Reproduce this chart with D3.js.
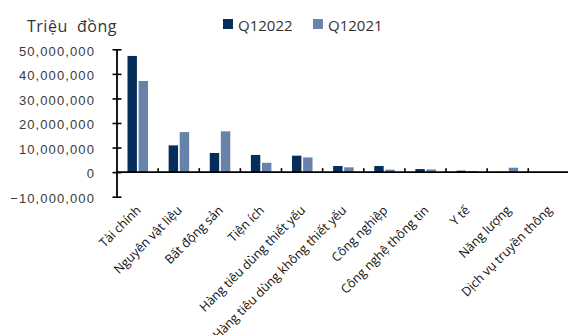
<!DOCTYPE html>
<html>
<head>
<meta charset="utf-8">
<script src="https://cdn.jsdelivr.net/npm/d3@7/dist/d3.min.js"></script>
<style>
  html, body { margin: 0; padding: 0; background: #fff; }
  svg { display: block; font-family: "Open Sans", "Noto Sans", sans-serif; }
</style>
</head>
<body>
<svg id="chart" width="568" height="335"></svg>
<script>
// Sector values (million VND), Q1 2022 vs Q1 2021
const categories = [
  "Tài chính", "Nguyên vật liệu", "Bất động sản", "Tiện ích",
  "Hàng tiêu dùng thiết yếu", "Hàng tiêu dùng không thiết yếu",
  "Công nghiệp", "Công nghệ thông tin", "Y tế", "Năng lượng",
  "Dịch vụ truyền thông"
];
const seriesNames = ["Q12022", "Q12021"];
const q12022 = [47300000, 10900000, 7800000, 7000000, 6700000, 2500000, 2500000, 1260000, 600000, 150000, 0];
const q12021 = [37100000, 16300000, 16600000, 3800000, 6000000, 1950000, 1000000, 1100000, 450000, 1800000, 0];
const yTicks = [-10000000, 0, 10000000, 20000000, 30000000, 40000000, 50000000];
const colors = ["#052e5a", "#6783a9"];
const unitLabel = "Triệu  đồng";

const svg = d3.select("#chart");

const y = d3.scaleLinear().domain([-10000000, 50000000]).range([196.7, 49.3]);
const x = d3.scaleBand().domain(categories).range([117, 569.4]).paddingInner(0).paddingOuter(0);
const xs = d3.scaleBand().domain(seriesNames).range([10.5, 31]).paddingInner(0.15).paddingOuter(0);

const rows = categories.map((c, i) => ({ cat: c, vals: [q12022[i], q12021[i]] }));

// Bars
const groups = svg.append("g").selectAll("g").data(rows).join("g")
  .attr("transform", d => `translate(${x(d.cat)},0)`);
groups.selectAll("rect").data(d => d.vals.map((v, k) => ({ v, k })))
  .join("rect")
  .attr("x", d => xs(seriesNames[d.k]))
  .attr("width", xs.bandwidth())
  .attr("y", d => y(Math.max(0, d.v)))
  .attr("height", d => Math.abs(y(d.v) - y(0)))
  .attr("fill", d => colors[d.k]);

// Y axis
const yAxis = d3.axisLeft(y).tickValues(yTicks).tickFormat(d3.format(",")).tickSize(0).tickPadding(22);
const yg = svg.append("g").attr("transform", "translate(117,0)").call(yAxis);
yg.select(".domain").remove();
yg.selectAll(".tick text")
  .attr("fill", "#3a3a3a")
  .style("font-size", "13px")
  .style("letter-spacing", "1.1px")
  .attr("dy", "0.45em");
yg.selectAll(".tick").append("line")
  .attr("x1", -4.5).attr("x2", 4.5)
  .attr("stroke", "#000").attr("stroke-width", 1.6);
yg.append("line")
  .attr("y1", y(50000000)).attr("y2", y(-10000000))
  .attr("stroke", "#000").attr("stroke-width", 1.8);

// X axis along zero
const y0 = y(0);
const xg = svg.append("g");
xg.append("line")
  .attr("x1", 117).attr("x2", 568)
  .attr("y1", y0).attr("y2", y0)
  .attr("stroke", "#000").attr("stroke-width", 1.8);
xg.selectAll("line.tk").data(categories.slice(1)).join("line")
  .attr("class", "tk")
  .attr("x1", d => x(d)).attr("x2", d => x(d))
  .attr("y1", y0 - 4).attr("y2", y0)
  .attr("stroke", "#000").attr("stroke-width", 1.6);

// Category labels, rotated
svg.append("g").selectAll("text").data(categories).join("text")
  .attr("transform", d => `translate(${x(d) + x.bandwidth() / 2 + 4},${211}) rotate(-45)`)
  .attr("text-anchor", "end")
  .attr("fill", "#111")
  .style("font-size", "12.5px")
  .text(d => d);

// Unit title
svg.append("text")
  .attr("x", 27).attr("y", 32)
  .attr("fill", "#333")
  .style("font-size", "16px")
  .style("white-space", "pre")
  .style("letter-spacing", "0.5px")
  .text(unitLabel);

// Legend
const legendX = [223, 313];
const lg = svg.append("g").selectAll("g").data(seriesNames).join("g")
  .attr("transform", (d, i) => `translate(${legendX[i]},0)`);
lg.append("rect").attr("x", 0).attr("y", 19).attr("width", 10).attr("height", 10)
  .attr("fill", (d, i) => colors[i]);
lg.append("text").attr("x", 15).attr("y", 30.5)
  .attr("fill", "#333")
  .style("font-size", "15px")
  .text(d => d);
</script>
</body>
</html>
